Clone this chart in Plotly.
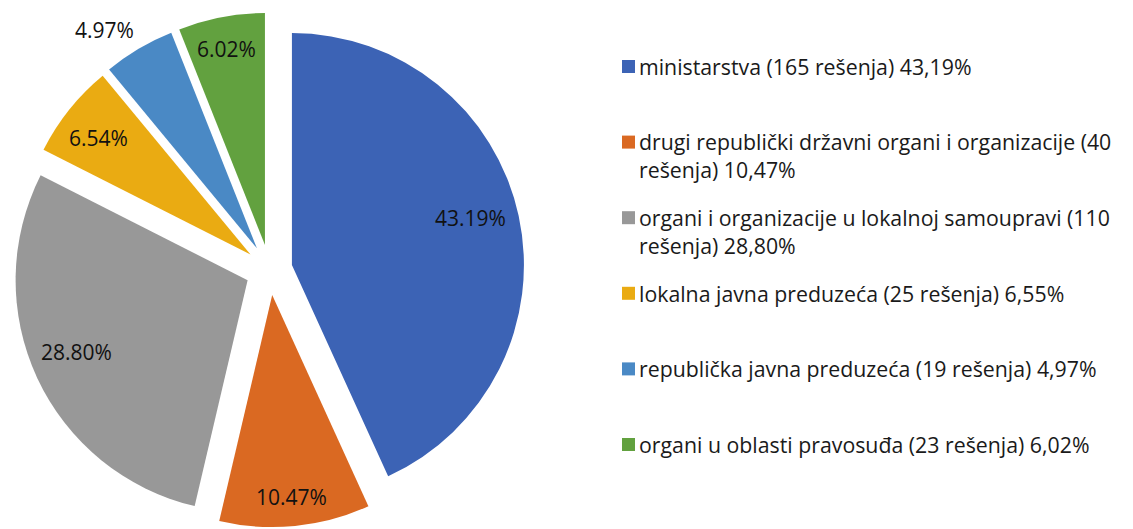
import math
import plotly.graph_objects as go

# ---- data ----
categories = [
    "ministarstva (165 rešenja) 43,19%",
    "drugi republički državni organi i organizacije (40<br>rešenja) 10,47%",
    "organi i organizacije u lokalnoj samoupravi (110<br>rešenja) 28,80%",
    "lokalna javna preduzeća (25 rešenja) 6,55%",
    "republička javna preduzeća (19 rešenja) 4,97%",
    "organi u oblasti pravosuđa (23 rešenja) 6,02%",
]
counts = [165, 40, 110, 25, 19, 23]
slice_labels = ["43.19%", "10.47%", "28.80%", "6.54%", "4.97%", "6.02%"]

# ---- style ----
colors = ["#3c63b5", "#da6922", "#989898", "#eaab12", "#4a89c5", "#62a13f"]
pulls = [0.098, 0.109, 0.105, 0.106, 0.108, 0.109]
label_radius = [0.794, 0.874, 0.798, 0.827, 1.147, 0.861]   # label distance from slice tip, in radii
label_turn = [-2.5, 0.3, 2.2, -1.2, -4.2, -0.3]             # degrees off the slice bisector

W, H = 1133, 529
FONT = "Open Sans"
TEXT = "#111111"

dom_x = [4.4 / W, 519.0 / W]
dom_y = [9.8 / H, 524.4 / H]

fig = go.Figure()
fig.add_trace(go.Pie(
    labels=[c.replace("<br>", " ") for c in categories],
    values=counts,
    textinfo="none",
    sort=False,
    direction="clockwise",
    rotation=0,
    pull=pulls,
    marker=dict(colors=colors, line=dict(width=0)),
    domain=dict(x=dom_x, y=dom_y),
    showlegend=False,
    hoverinfo="label+percent",
))

# ---- slice labels placed relative to each slice's tip ----
cx = (dom_x[0] + dom_x[1]) / 2 * W
cy = (1 - (dom_y[0] + dom_y[1]) / 2) * H
R = min((dom_x[1] - dom_x[0]) * W, (dom_y[1] - dom_y[0]) * H) / 2 / (1 + max(pulls))
total = sum(counts)
cum = 0
for v, lab, p, f, t in zip(counts, slice_labels, pulls, label_radius, label_turn):
    mid = (cum + v / 2) / total * 2 * math.pi
    cum += v
    tipx = cx + p * R * math.sin(mid)
    tipy = cy - p * R * math.cos(mid)
    ang = mid + math.radians(t)
    px = tipx + f * R * math.sin(ang)
    py = tipy - f * R * math.cos(ang)
    fig.add_annotation(
        xref="paper", yref="paper", x=px / W, y=1 - py / H,
        xanchor="center", yanchor="middle", text=lab, showarrow=False,
        font=dict(family=FONT, size=21, color=TEXT),
    )

# ---- legend (squares + wrapped text) ----
sq = 13
first_center = 58.5
step = 75.6
LEG_SIZE = 21.3
line_h = 1.3 * LEG_SIZE
for i, (name, col) in enumerate(zip(categories, colors)):
    yc = first_center + step * i
    fig.add_shape(
        type="rect", xref="paper", yref="paper",
        x0=614 / W, x1=(614 + sq) / W,
        y0=1 - (yc - sq / 2) / H, y1=1 - (yc + sq / 2) / H,
        fillcolor=col, line=dict(width=0),
    )
    n = name.count("<br>") + 1
    fig.add_annotation(
        xref="paper", yref="paper",
        x=629 / W, y=1 - (yc + (n - 1) * line_h / 2) / H,
        xanchor="left", yanchor="middle", align="left",
        text=name, showarrow=False,
        font=dict(family=FONT, size=LEG_SIZE, color="#1a1a1a"),
    )

fig.update_layout(
    width=W, height=H, autosize=False,
    margin=dict(l=0, r=0, t=0, b=0, pad=0, autoexpand=False),
    paper_bgcolor="white", plot_bgcolor="white",
)

fig.write_html("out.html")
